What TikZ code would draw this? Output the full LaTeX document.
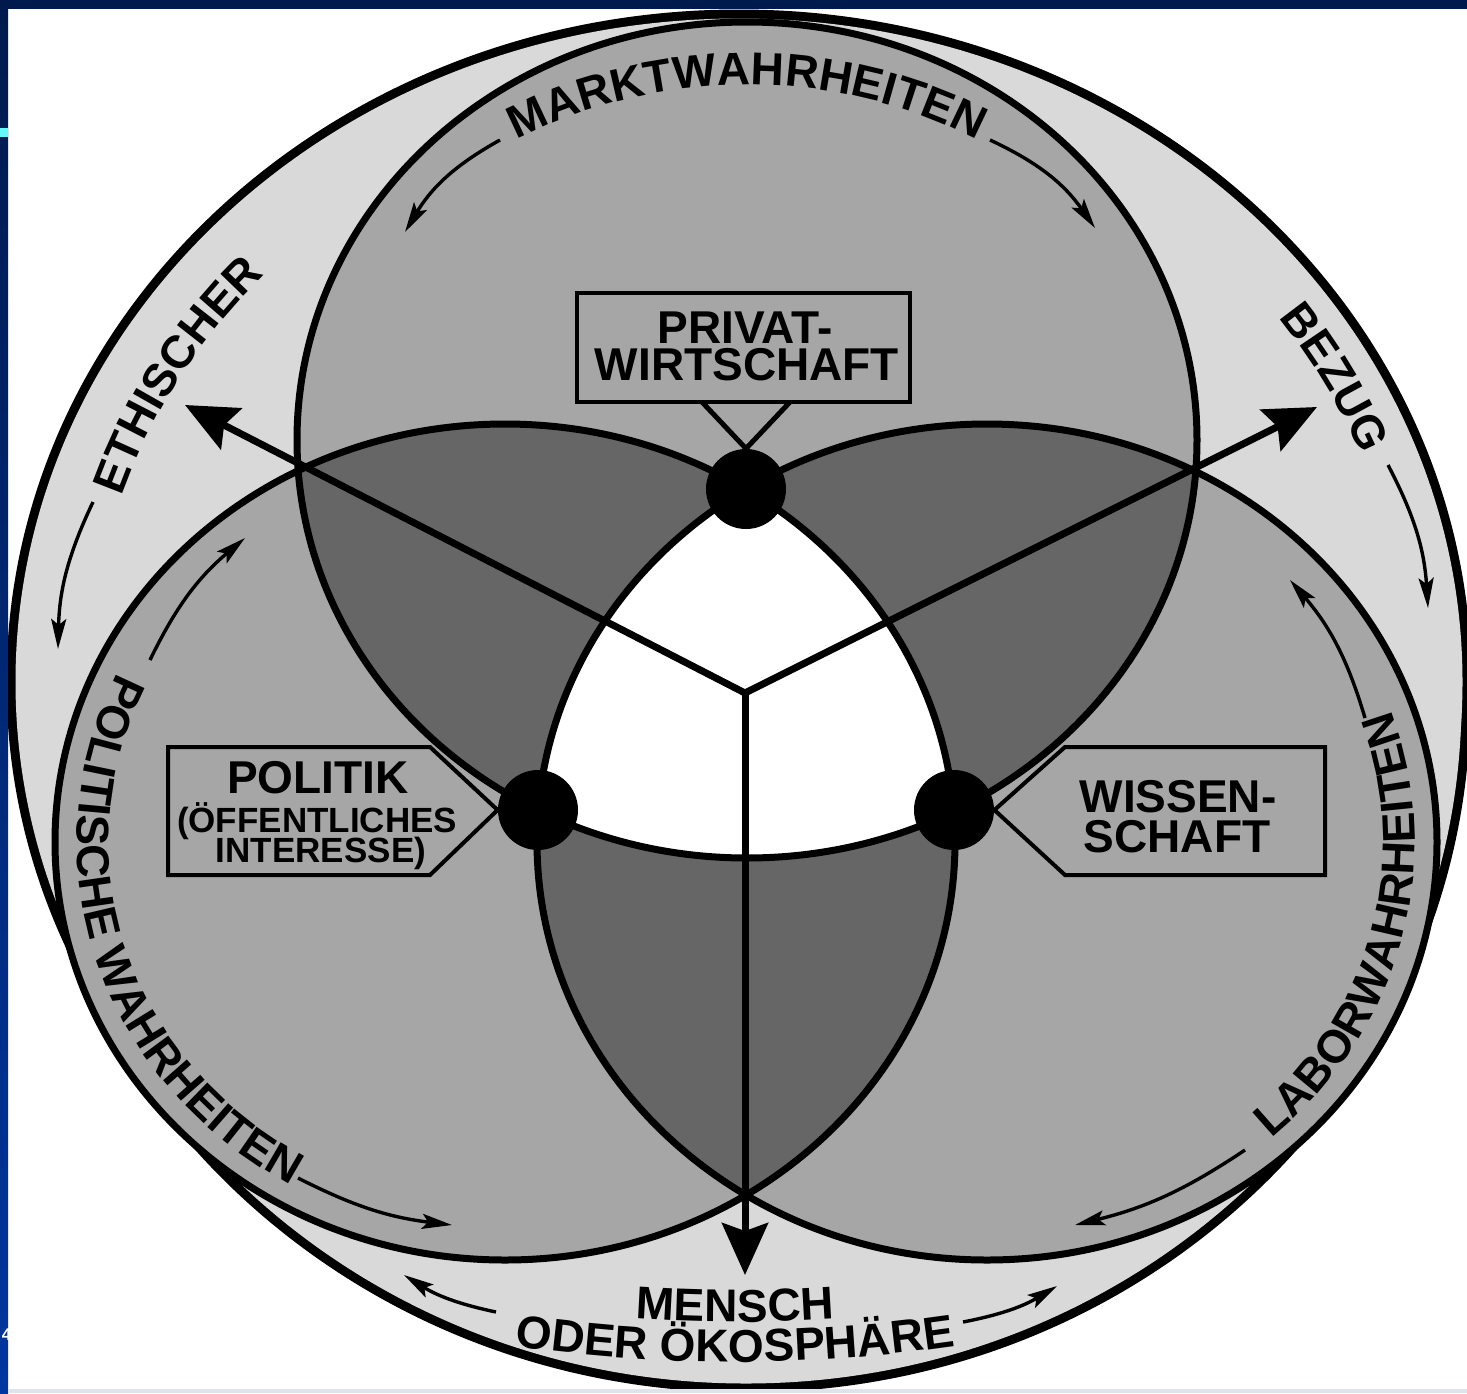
\documentclass[tikz,border=0pt]{standalone}
\usepackage{fontspec}
\setmainfont{Liberation Sans}
\usetikzlibrary{arrows.meta,decorations.text}
\definecolor{ringgray}{RGB}{217,217,217}
\definecolor{midgray}{RGB}{166,166,166}
\definecolor{deepgray}{RGB}{102,102,102}
\definecolor{navytop}{RGB}{0,26,77}
\definecolor{navybot}{RGB}{0,54,160}
\definecolor{cyanmark}{RGB}{100,250,250}
\definecolor{stripgray}{RGB}{222,228,236}
\newcommand\lblfont{\fontsize{23pt}{23pt}\selectfont\bfseries}
\newcommand\subfont{\fontsize{17.5pt}{17.5pt}\selectfont\bfseries}
\newcommand\numfont{\fontsize{8.5pt}{8.5pt}\selectfont\bfseries}
\begin{document}
\begin{tikzpicture}[x=0.5pt,y=0.5pt,
  circ/.style={line width=3.5pt},
  bigarrow/.style={line width=3.5pt,-{Stealth[length=26pt,width=23pt,inset=4pt]}},
  arcarrow/.style={line width=1.7pt,-{Stealth[length=15pt,width=7.5pt,inset=3pt]}},
  tagbox/.style={draw,line width=2pt,fill=midgray,line join=miter},
  dotnode/.style={circle,fill=black,inner sep=0pt,minimum size=40pt},
  lbl/.style={anchor=base,inner sep=0pt,font=\lblfont},
  sublbl/.style={anchor=base,inner sep=0pt,font=\subfont}]
\useasboundingbox (0,0) rectangle (1467,-1393);
\fill[white] (0,0) rectangle (1467,-1393);

% ---------- outer shape ----------
\coordinate (cE1) at (739,-682);
\coordinate (cE2) at (746,-700);
\draw[line width=9pt] (cE1) ellipse[x radius=723.5, y radius=663.5];
\draw[line width=9pt] (cE2) ++(180:715.5 and 683.5) arc[start angle=180, end angle=360, x radius=715.5, y radius=683.5];
\fill[ringgray] (cE1) ellipse[x radius=723.5, y radius=663.5];
\fill[ringgray] (cE2) ++(180:715.5 and 683.5) arc[start angle=180, end angle=360, x radius=715.5, y radius=683.5] -- cycle;

% ---------- three circles ----------
\coordinate (cT) at (747,-440);
\coordinate (cL) at (505,-842);
\coordinate (cR) at (987,-842);
\fill[midgray] (cT) ellipse[x radius=450, y radius=418];
\fill[midgray] (cL) ellipse[x radius=450, y radius=418];
\fill[midgray] (cR) ellipse[x radius=450, y radius=418];
\begin{scope}
  \clip (cT) ellipse[x radius=450, y radius=418];
  \fill[deepgray] (cL) ellipse[x radius=450, y radius=418];
  \fill[deepgray] (cR) ellipse[x radius=450, y radius=418];
\end{scope}
\begin{scope}
  \clip (cL) ellipse[x radius=450, y radius=418];
  \fill[deepgray] (cR) ellipse[x radius=450, y radius=418];
\end{scope}
\begin{scope}
  \clip (cT) ellipse[x radius=450, y radius=418];
  \clip (cL) ellipse[x radius=450, y radius=418];
  \fill[white] (cR) ellipse[x radius=450, y radius=418];
\end{scope}
\draw[circ] (cT) ellipse[x radius=450, y radius=418];
\draw[circ] (cL) ellipse[x radius=450, y radius=418];
\draw[circ] (cR) ellipse[x radius=450, y radius=418];

% ---------- rays ----------
\coordinate (hub) at (745,-693);
\coordinate (tipUL) at (185,-405);
\coordinate (tipUR) at (1317,-407);
\coordinate (tipB) at (745,-1275);
\draw[bigarrow] (hub) -- (tipUL);
\draw[bigarrow] (hub) -- (tipUR);
\draw[bigarrow] (hub) -- (tipB);

% ---------- dots ----------
\node[dotnode] (dotTop) at (746,-489) {};
\node[dotnode] (dotLeft) at (538,-810) {};
\node[dotnode] (dotRight) at (954,-810) {};

% ---------- boxes ----------
\draw[tagbox] (577,-293) rectangle (910,-402);
\draw[line width=2.5pt] (702,-402) -- (dotTop.north) -- (790,-402);
\node[lbl] (tPriv1) at (745,-343) {PRIVAT-};
\node[lbl] (tPriv2) at (747,-380) {WIRTSCHAFT};

\draw[tagbox] (168,-747) -- (430,-747) -- (dotLeft.west) -- (430,-875) -- (168,-875) -- cycle;
\node[lbl] (tPol1) at (318,-793) {POLITIK};
\node[sublbl] (tPol2) at (317,-832) {(ÖFFENTLICHES};
\node[sublbl] (tPol3) at (321,-862) {INTERESSE)};

\draw[tagbox] (1065,-747) -- (1325,-747) -- (1325,-875) -- (1065,-875) -- (dotRight.east) -- cycle;
\node[lbl] (tWis1) at (1178,-812) {WISSEN-};
\node[lbl] (tWis2) at (1177,-852) {SCHAFT};

% ---------- curved texts ----------
\path[decorate,decoration={text along path,text align=center,text={|\lblfont|MARKTWAHRHEITEN}}]
  (cT) ++(150:430 and 355) arc[start angle=150, end angle=30, x radius=430, y radius=355];
\path[decorate,decoration={text along path,text align=center,text={|\lblfont|POLITISCHE WAHRHEITEN}}]
  (cL) ++(137:428 and 396) arc[start angle=137, end angle=257, x radius=428, y radius=396];
\path[decorate,decoration={text along path,text align=center,text={|\lblfont|LABORWAHRHEITEN}}]
  (cR) ++(-74:428 and 396) arc[start angle=-74, end angle=46, x radius=428, y radius=396];
\path[decorate,decoration={text along path,text align=center,text={|\lblfont|ETHISCHER}}]
  (cE1) ++(185:650 and 596) arc[start angle=185, end angle=115, x radius=650, y radius=596];
\path[decorate,decoration={text along path,text align=center,text={|\lblfont|BEZUG}}]
  (cE1) ++(58.5:670 and 615) arc[start angle=58.5, end angle=-1.5, x radius=670, y radius=615];
\coordinate (cBot) at (735,158);
\path[decorate,decoration={text along path,text align=center,text={|\lblfont|MENSCH}}]
  (cBot) ++(255:1480) arc[start angle=255, end angle=285, radius=1480];
\path[decorate,decoration={text along path,text align=center,text={|\lblfont|ODER ÖKOSPHÄRE}}]
  (cBot) ++(255:1520) arc[start angle=255, end angle=285, radius=1520];

% ---------- small curved arrows ----------
\draw[arcarrow] (500,-140) to[bend right=15] (405,-232);
\draw[arcarrow] (990,-140) to[bend left=15] (1095,-228);
\draw[arcarrow] (93,-502) to[bend right=12] (58,-649);
\draw[arcarrow] (1388,-465) to[bend left=12] (1428,-608);
\draw[arcarrow] (150,-660) to[bend left=12] (245,-538);
\draw[arcarrow] (298,-1178) to[bend right=10] (452,-1225);
\draw[arcarrow] (1365,-718) to[bend right=12] (1290,-580);
\draw[arcarrow] (1245,-1150) to[bend left=10] (1075,-1225);
\draw[arcarrow] (496,-1312) to[bend left=10] (404,-1275);
\draw[arcarrow] (963,-1322) to[bend right=10] (1057,-1286);

% ---------- slide frame ----------
\shade[top color=navytop,bottom color=navybot] (0,0) rectangle (8,-1393);
\fill[navytop] (0,0) rectangle (1467,-9);
\fill[cyanmark] (0,-128) rectangle (8,-137);
\fill[stripgray] (8,-1389) rectangle (1467,-1393);
\node[anchor=base west,inner sep=0pt,text=white,font=\numfont] (pagenum) at (1.5,-1340) {4};
\end{tikzpicture}
\end{document}
